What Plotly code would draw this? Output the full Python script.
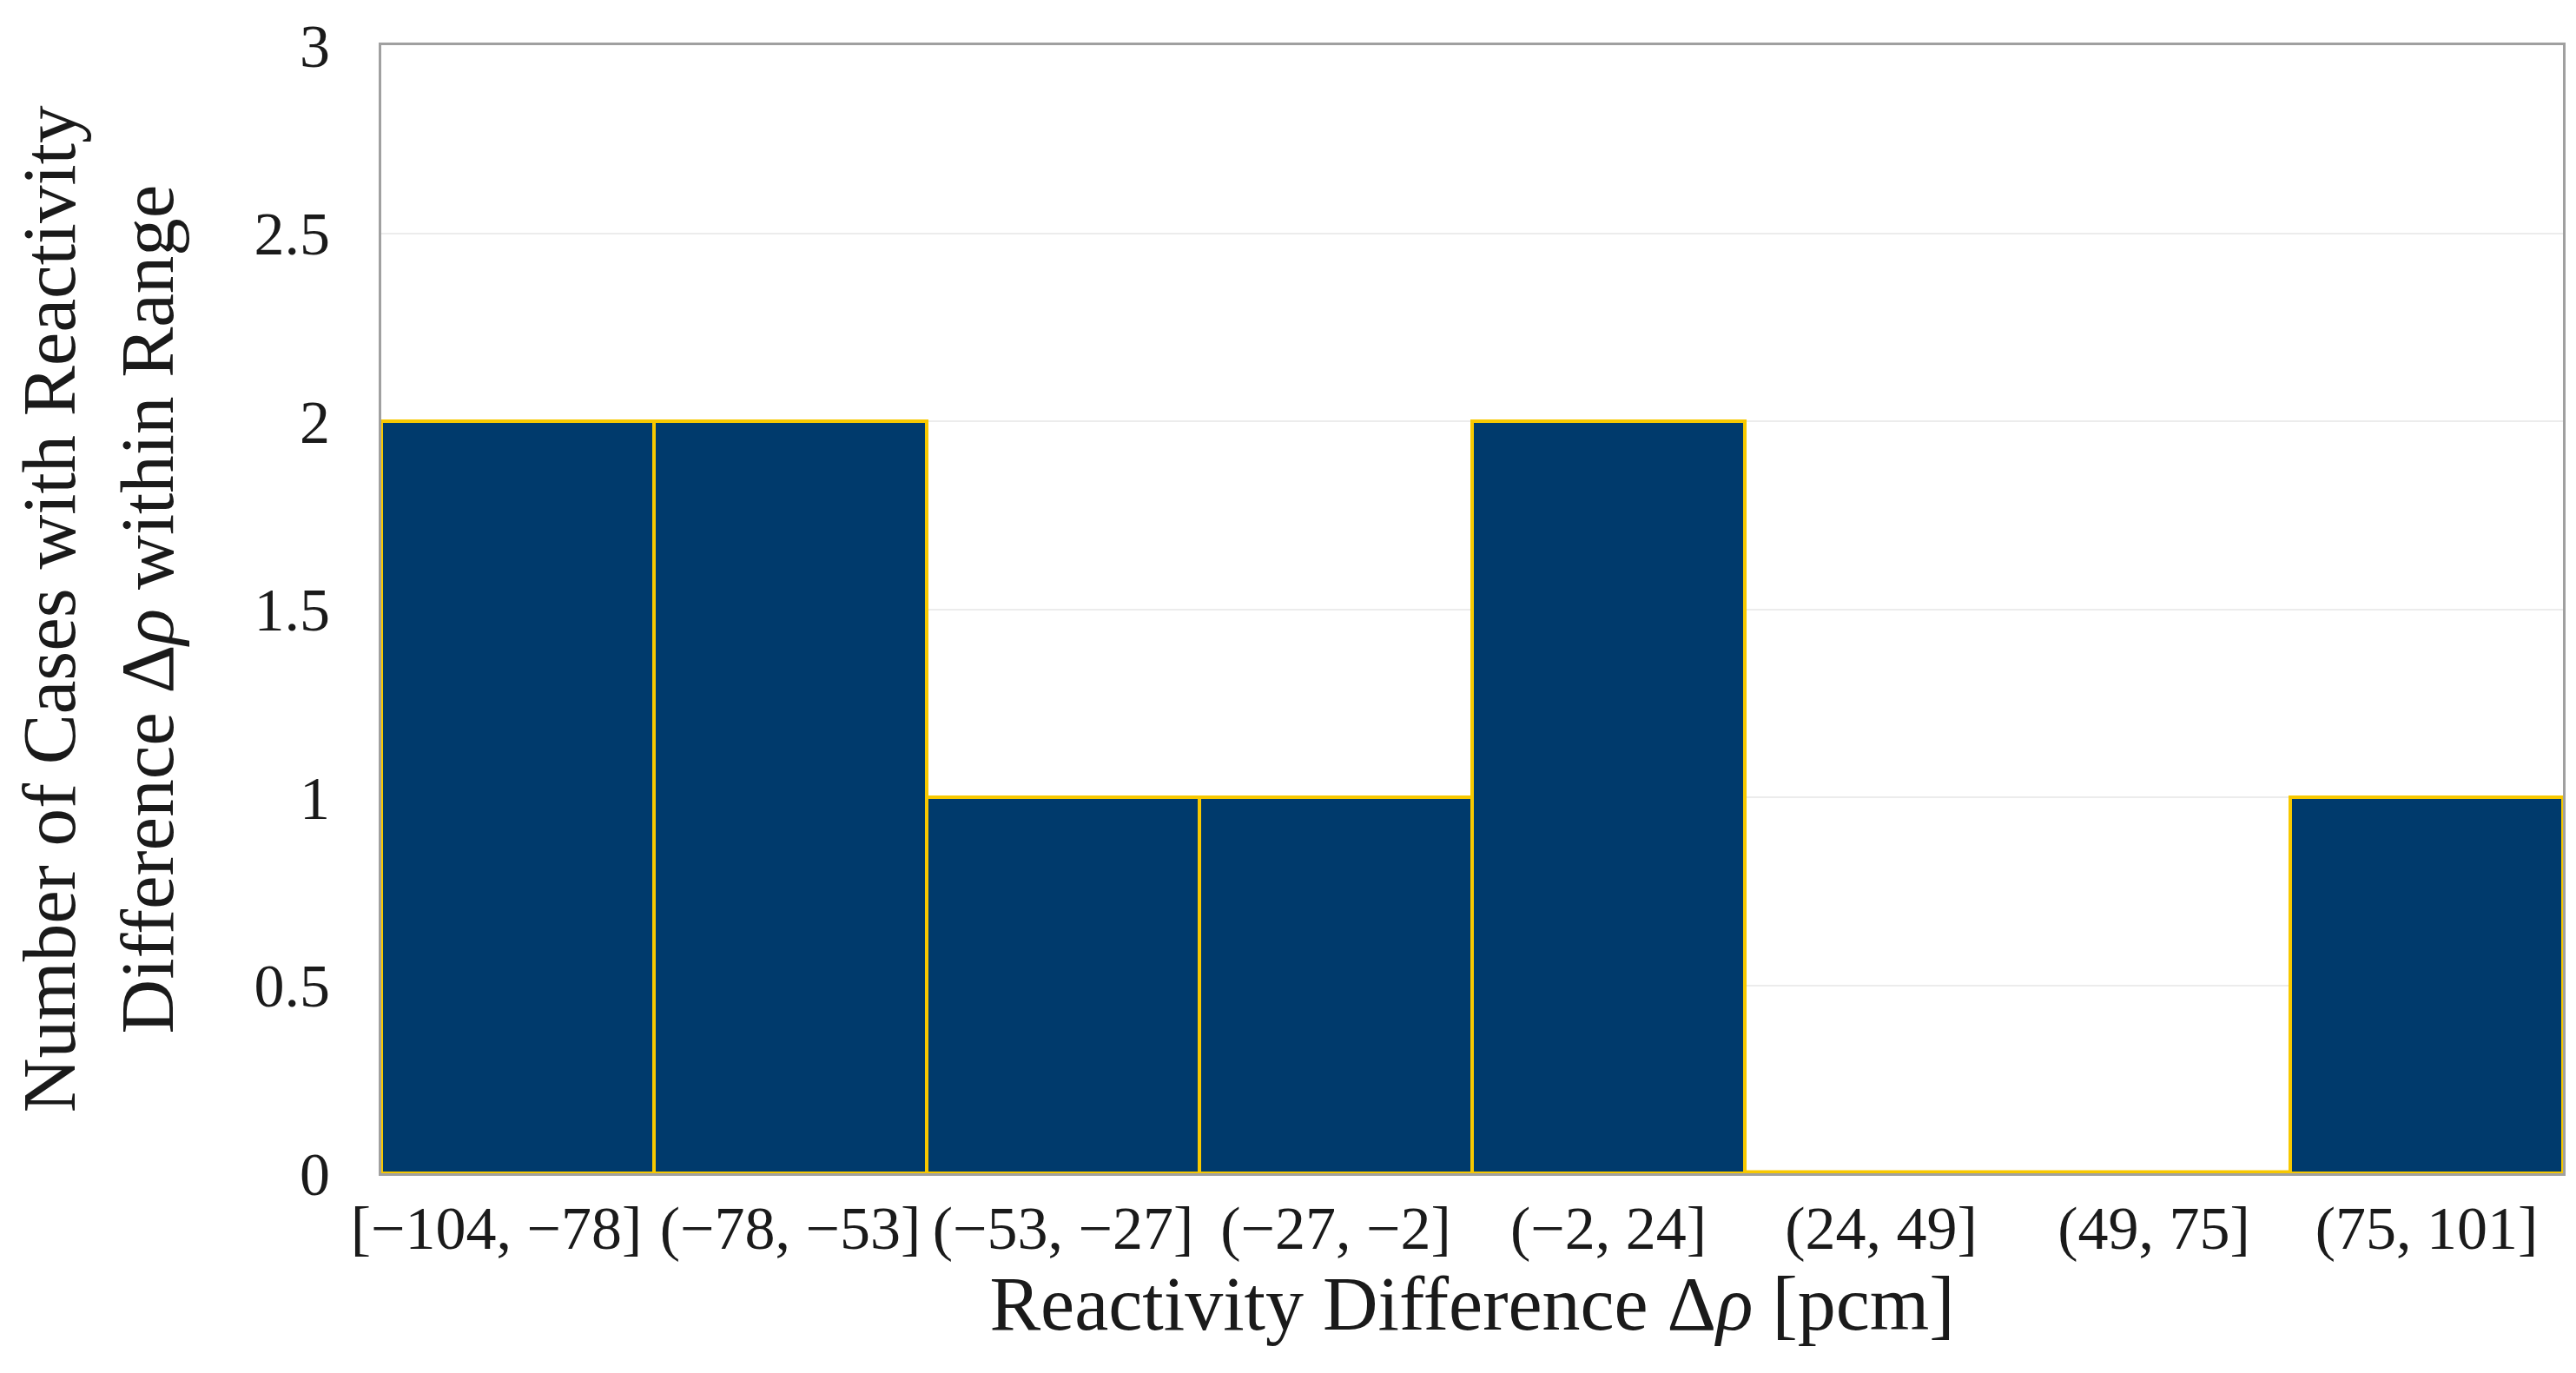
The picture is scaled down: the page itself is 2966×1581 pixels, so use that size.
import plotly.graph_objects as go

# ---- data ----
bin_labels = ["[−104, −78]\u2002\u2009", "(−78, −53]", "(−53, −27]", "(−27, −2]",
              "(−2, 24]", "(24, 49]", "(49, 75]", "(75, 101]"]
counts = [2, 2, 1, 1, 2, 0, 0, 1]
y_ticks = [0, 0.5, 1, 1.5, 2, 2.5, 3]

NAVY = "#003A6C"
GOLD = "#F7C800"
FONT = "Liberation Serif"
TXT = "#1a1a1a"

positions = list(range(len(bin_labels)))

fig = go.Figure()
fig.add_trace(go.Bar(
    x=positions, y=counts, width=1,
    marker=dict(color=NAVY, line=dict(color=GOLD, width=4)),
    showlegend=False, hoverinfo="x+y",
))

# outline for empty bins (drawn along zero)
zx, zy = [], []
for i, c in enumerate(counts):
    if c == 0:
        zx += [positions[i] - 0.5, positions[i] + 0.5, None]
        zy += [0, 0, None]
fig.add_trace(go.Scatter(x=zx, y=zy, mode="lines",
                         line=dict(color=GOLD, width=7),
                         showlegend=False, hoverinfo="skip"))

fig.update_layout(
    width=2966, height=1581,
    margin=dict(l=431, r=23, t=44, b=238, autoexpand=False),
    paper_bgcolor="white", plot_bgcolor="white",
    bargap=0,
    font=dict(family=FONT, color=TXT, size=70),
)
fig.update_xaxes(
    range=[-0.5, 7.5], tickmode="array", tickvals=positions, ticktext=bin_labels,
    tickangle=0, tickfont=dict(family=FONT, size=70, color=TXT),
    showgrid=False, zeroline=False, showline=True, mirror=True,
    linecolor="#a0a0a0", linewidth=3, layer="below traces",
    ticks="", ticklabelstandoff=0, ticklabeloverflow="allow",
    title=dict(text="Reactivity Difference Δ<i>ρ</i> [pcm]",
               font=dict(family=FONT, size=88, color=TXT), standoff=10),
    automargin=False,
)
fig.update_yaxes(
    range=[0, 3], tickmode="array", tickvals=y_ticks,
    ticktext=[f"{v:g}" for v in y_ticks],
    tickfont=dict(family=FONT, size=70, color=TXT),
    showgrid=True, gridcolor="#ececec", gridwidth=2,
    zeroline=False, showline=True, mirror=True,
    linecolor="#a0a0a0", linewidth=3, layer="below traces",
    ticks="", ticklabelstandoff=42, ticklabeloverflow="allow",
    title=dict(text="Number of Cases with Reactivity<br>Difference Δ<i>ρ</i> within Range",
               font=dict(family=FONT, size=87, color=TXT), standoff=86),
    automargin=False,
)

fig.write_html("out.html")
